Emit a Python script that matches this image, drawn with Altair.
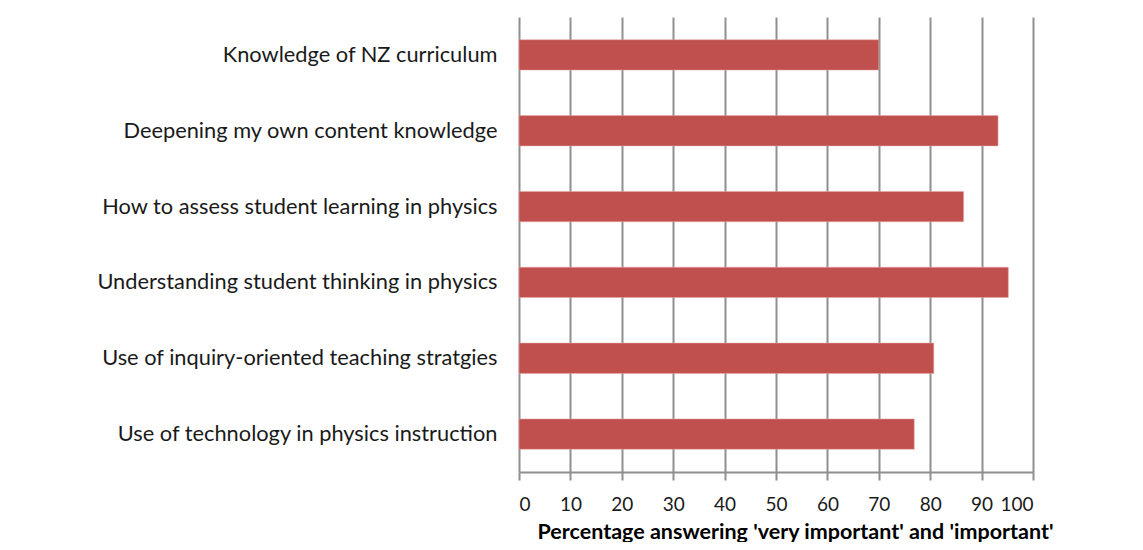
import altair as alt
import pandas as pd

categories = [
    "Knowledge of NZ curriculum",
    "Deepening my own content knowledge",
    "How to assess student learning in physics",
    "Understanding student thinking in physics",
    "Use of inquiry-oriented teaching stratgies",
    "Use of technology in physics instruction",
]
values = [70.0, 93.2, 86.5, 95.2, 80.7, 76.9]
ticks = [0, 10, 20, 30, 40, 50, 60, 70, 80, 90, 100]

df = pd.DataFrame({"category": categories, "value": values})

chart = alt.Chart(df).mark_bar(color="#C0504D", stroke="#E8A8A6", strokeWidth=0.5).encode(
    y=alt.Y("category:N", sort=categories,
            scale=alt.Scale(paddingInner=0.6, paddingOuter=0.3),
            axis=alt.Axis(title=None, ticks=False, domain=False, labelPadding=22,
                          labelFont="Lato", labelFontSize=21.8, labelColor="#1a1a1a",
                          labelLimit=600)),
    x=alt.X("value:Q", scale=alt.Scale(domain=[0, 100], nice=False),
            axis=alt.Axis(title="Percentage answering 'very important' and 'important'",
                          values=ticks, labelOverlap=False,
                          grid=True, gridColor="#8f8f8f", gridWidth=2,
                          domainColor="#8f8f8f", domainWidth=2,
                          tickColor="#8f8f8f", tickWidth=2, tickSize=8,
                          labelFont="Lato", labelFontSize=19, labelColor="#1a1a1a",
                          labelPadding=15,
                          titleFont="Lato", titleFontSize=21.5, titleFontWeight="bold",
                          titleColor="#000000",
                          titleX=276, titleY=66, titleAlign="center",
                          titleBaseline="alphabetic")),
).properties(
    width=514, height=455,
    autosize=alt.AutoSizeParams(type="none"),
    padding={"left": 511, "top": 9, "right": 90, "bottom": 70},
).configure_view(stroke=None)

chart.save("out.html", embed_options={"renderer": "svg", "actions": False})
